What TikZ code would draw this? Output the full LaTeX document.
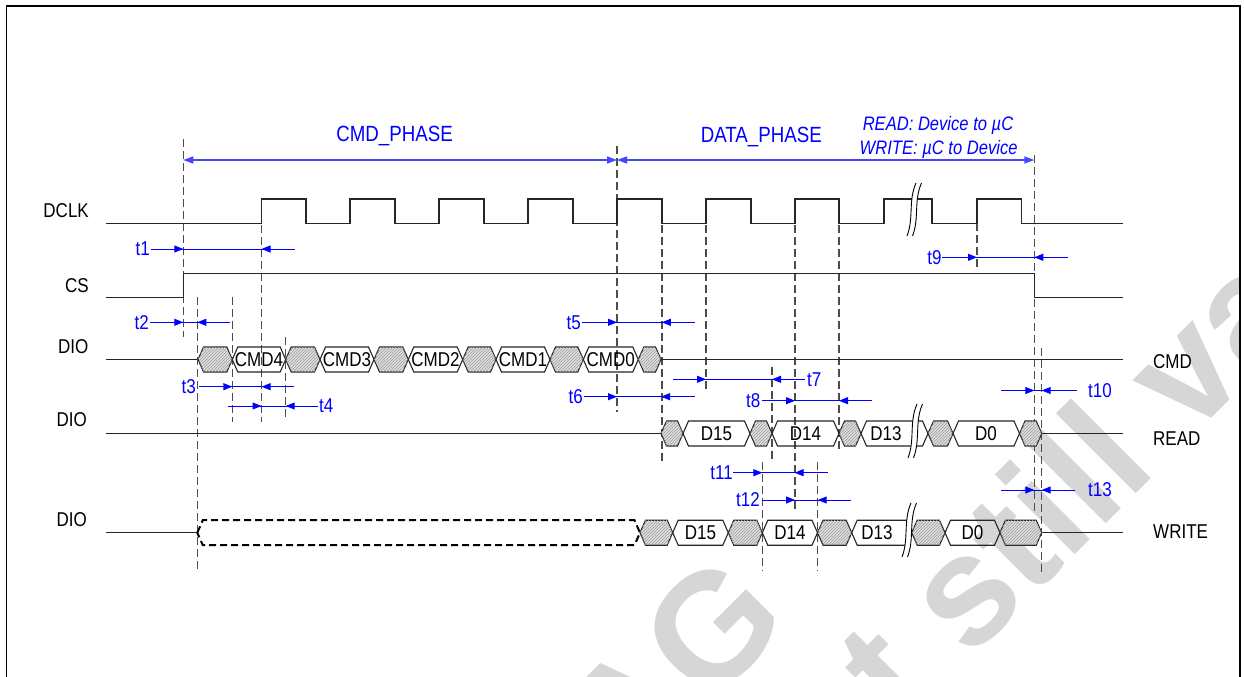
\documentclass[tikz,border=0pt]{standalone}
\usepackage{fontspec}
\setmainfont{Liberation Sans}[FakeStretch=0.85]
\newfontfamily\wmfont{Liberation Sans}
\usetikzlibrary{arrows.meta,patterns}
\definecolor{sig}{gray}{0.15}
\definecolor{dimblue}{RGB}{0,0,255}
\definecolor{phaseblue}{RGB}{70,70,255}
\definecolor{wm}{gray}{0.84}
\newcommand\hsl{5.5}
\newcommand\hhl{12.5}
\newcommand\hexseg[4]{\draw[#4] (#1,#3) -- (#1+\hsl,#3-\hhl) -- (#2-\hsl,#3-\hhl) -- (#2,#3) -- (#2-\hsl,#3+\hhl) -- (#1+\hsl,#3+\hhl) -- cycle;}
\newcommand\dimarr[5]{%
  \draw[dimline] (#2,#1) -- (#5,#1);
  \draw[dimline,-{Triangle[length=9pt,width=7pt]}] (#3-9,#1) -- (#3,#1);
  \draw[dimline,-{Triangle[length=9pt,width=7pt]}] (#4+9,#1) -- (#4,#1);}
\newcommand\brksym[3]{%
  \fill[white] (#1+4,#2) .. controls (#1-4,#2+18) and (#1+2,#3-18) .. (#1-5,#3) -- (#1+0.5,#3) .. controls (#1+7.5,#3-18) and (#1+1.5,#2+18) .. (#1+9.5,#2) -- cycle;
  \draw[brkline] (#1+4,#2) .. controls (#1-4,#2+18) and (#1+2,#3-18) .. (#1-5,#3);
  \draw[brkline] (#1+9.5,#2) .. controls (#1+1.5,#2+18) and (#1+7.5,#3-18) .. (#1+0.5,#3);}
\newcommand\vdsh[3]{\draw[vdl] (#1,#2) -- (#1,#3);}
\begin{document}
\begin{tikzpicture}[x=1pt,y=-1pt,
  sigline/.style={draw=sig,line width=1.4pt},
  hatch/.style={draw=sig,line width=1.1pt,fill=black!13,postaction={pattern=north east lines,pattern color=black!38}},
  databox/.style={draw=sig,line width=1.1pt},
  zbox/.style={draw=black,line width=2pt,dash pattern=on 7pt off 4pt,fill=white},
  vdl/.style={draw=black!70,line width=1.1pt,dash pattern=on 8pt off 4pt},
  dimline/.style={draw=dimblue,line width=1pt},
  phase/.style={draw=phaseblue,line width=1.5pt},
  brkline/.style={draw=black,line width=0.9pt},
  lbl/.style={inner sep=0pt,font=\fontsize{20}{24}\selectfont,text=black},
  tl/.style={inner sep=0pt,font=\fontsize{20}{24}\selectfont,text=dimblue},
  ph/.style={inner sep=0pt,font=\fontsize{22}{26}\selectfont,text=dimblue},
  wmtext/.style={inner sep=0pt,font=\wmfont\bfseries\fontsize{156}{156}\selectfont,text=wm,rotate=45}]
\useasboundingbox (0,0) rectangle (1245,677);
% watermark
\begin{scope}
\clip (8,8) rectangle (1238.5,677);
\node[wmtext,anchor=base east] (wm1) at (793,623) {AG};
\node[wmtext,anchor=base west] (wm2) at (902,728) {t still va};
\end{scope}
% frame
\draw[line width=1.5pt] (6.5,690) -- (6.5,6) -- (1240,6) -- (1240,690);
% phase labels
\node[ph] (cmdphase) at (394.6,136.3) {CMD\_PHASE};
\node[ph] (dataphase) at (761.3,136.7) {DATA\_PHASE};
\node[tl,anchor=base,font=\itshape\fontsize{19.5}{23}\selectfont] (rdir) at (938,130.5) {READ: Device to µC};
\node[tl,anchor=base,font=\itshape\fontsize{19.5}{23}\selectfont] (wdir) at (938.6,154.3) {WRITE: µC to Device};
\draw[phase,{Triangle[length=10pt,width=7pt]}-{Triangle[length=10pt,width=7pt]}] (183.3,160) -- (617,160);
\draw[phase,{Triangle[length=10pt,width=7pt]}-{Triangle[length=10pt,width=7pt]}] (617,160) -- (1034.3,160);
% dashed verticals
\vdsh{183.3}{139}{337}
\vdsh{617}{146}{411.7}
\vdsh{1034.3}{155}{511.7}
\vdsh{261.5}{225}{421.7}
\vdsh{197.3}{297}{570}
\vdsh{232.3}{297}{421.7}
\vdsh{285.7}{337.3}{419.3}
\vdsh{662}{225}{460.7}
\vdsh{706}{225}{392.7}
\vdsh{795}{225}{510}
\vdsh{839}{225}{451.7}
\vdsh{977}{223}{266.7}
\vdsh{772}{366.7}{460}
\vdsh{762.3}{461.7}{570}
\vdsh{817.7}{461.7}{570}
\vdsh{1041.7}{348}{571.7}
% left labels
\node[lbl,anchor=east] (ldclk) at (89,210.3) {DCLK};
\node[lbl,anchor=east] (lcs) at (89,285.3) {CS};
\node[lbl,anchor=east] (ldio1) at (88.5,346.3) {DIO};
\node[lbl,anchor=east] (ldio2) at (87,420) {DIO};
\node[lbl,anchor=east] (ldio3) at (87,519.4) {DIO};
% right labels
\node[lbl,anchor=west] (rcmd) at (1153,361.3) {CMD};
\node[lbl,anchor=west] (rread) at (1153,438.7) {READ};
\node[lbl,anchor=west] (rwrite) at (1153,531.7) {WRITE};
% DCLK
\draw[sigline] (106,223.5) -- (261.5,223.5) -- (261.5,199) -- (306,199) -- (306,223.5) -- (350,223.5) -- (350,199) -- (395,199) -- (395,223.5) -- (439,223.5) -- (439,199) -- (484,199) -- (484,223.5) -- (528,223.5) -- (528,199) -- (573,199) -- (573,223.5) -- (617,223.5) -- (617,199) -- (662,199) -- (662,223.5) -- (706,223.5) -- (706,199) -- (751,199) -- (751,223.5) -- (795,223.5) -- (795,199) -- (839,199) -- (839,223.5) -- (884,223.5) -- (884,199) -- (932,199) -- (932,223.5) -- (977,223.5) -- (977,199) -- (1021.7,199) -- (1021.7,223.5) -- (1123,223.5);
\brksym{912}{183}{236}
% CS
\draw[sigline] (106,297.5) -- (183.3,297.5) -- (183.3,273.3) -- (1034.3,273.3) -- (1034.3,297.5) -- (1123,297.5);
% DIO CMD row
\draw[sigline] (106,359.5) -- (198,359.5);
\draw[sigline] (661,359.5) -- (1123,359.5);
\hexseg{198}{232.3}{359.5}{hatch}
\hexseg{232.3}{285.7}{359.5}{databox}
\hexseg{285.7}{320}{359.5}{hatch}
\hexseg{320}{374}{359.5}{databox}
\hexseg{374}{408.3}{359.5}{hatch}
\hexseg{408.3}{462.7}{359.5}{databox}
\hexseg{462.7}{496}{359.5}{hatch}
\hexseg{496}{550}{359.5}{databox}
\hexseg{550}{583.3}{359.5}{hatch}
\hexseg{583.3}{638.3}{359.5}{databox}
\hexseg{638.3}{661}{359.5}{hatch}
\node[lbl] (cmd4) at (259,359.5) {CMD4};
\node[lbl] (cmd3) at (347,359.5) {CMD3};
\node[lbl] (cmd2) at (435.5,359.5) {CMD2};
\node[lbl] (cmd1) at (523,359.5) {CMD1};
\node[lbl] (cmd0) at (610.8,359.5) {CMD0};
% READ row
\draw[sigline] (106,433.5) -- (661,433.5);
\draw[sigline] (1041.7,433.5) -- (1123,433.5);
\hexseg{661}{683}{433.5}{hatch}
\hexseg{683}{750}{433.5}{databox}
\hexseg{750}{772}{433.5}{hatch}
\hexseg{772}{839}{433.5}{databox}
\hexseg{839}{861}{433.5}{hatch}
\hexseg{861}{928}{433.5}{databox}
\hexseg{928}{953}{433.5}{hatch}
\hexseg{953}{1019.5}{433.5}{databox}
\hexseg{1019.5}{1041.7}{433.5}{hatch}
\brksym{913}{404}{458}
\node[lbl] (rd15) at (716.5,433.5) {D15};
\node[lbl] (rd14) at (805.5,433.5) {D14};
\node[lbl] (rd13) at (886,433.5) {D13};
\node[lbl] (rd0) at (986,433.5) {D0};
% WRITE row
\draw[sigline] (106,532.7) -- (197.3,532.7);
\draw[sigline] (1041.7,532.7) -- (1123,532.7);
\hexseg{197.3}{640}{532.7}{zbox}
\hexseg{640}{672.7}{532.7}{hatch}
\hexseg{672.7}{728.3}{532.7}{databox}
\hexseg{728.3}{762.3}{532.7}{hatch}
\hexseg{762.3}{817.5}{532.7}{databox}
\hexseg{817.5}{851.7}{532.7}{hatch}
\hexseg{851.7}{911.7}{532.7}{databox}
\hexseg{911.7}{945}{532.7}{hatch}
\hexseg{945}{1000}{532.7}{databox}
\hexseg{1000}{1041.7}{532.7}{hatch}
\brksym{907}{503}{557}
\node[lbl] (wd15) at (700.5,532.7) {D15};
\node[lbl] (wd14) at (790,532.7) {D14};
\node[lbl] (wd13) at (877,532.7) {D13};
\node[lbl] (wd0) at (972.5,532.7) {D0};
% timing arrows
\dimarr{249}{151.4}{183.3}{261.5}{294.6}
\node[tl,anchor=east] (t1) at (150,249) {t1};
\dimarr{322.3}{150}{183.3}{197.3}{230}
\node[tl,anchor=east] (t2) at (149,322.3) {t2};
\dimarr{322.3}{582}{617}{661.8}{695}
\node[tl,anchor=east] (t5) at (581,322.3) {t5};
\dimarr{386.7}{199.3}{232.3}{261.5}{294.3}
\node[tl,anchor=east] (t3) at (196,386.7) {t3};
\dimarr{406}{228.3}{261.5}{285.7}{318.3}
\node[tl,anchor=west] (t4) at (319,406) {t4};
\dimarr{396.7}{584.4}{617}{661}{695}
\node[tl,anchor=east] (t6) at (583,396.7) {t6};
\dimarr{379.3}{673}{706}{772}{805}
\node[tl,anchor=west] (t7) at (807,379.3) {t7};
\dimarr{400.7}{762}{795}{839}{872}
\node[tl,anchor=east] (t8) at (760.5,400.7) {t8};
\dimarr{257.3}{941.7}{977}{1034.3}{1067.7}
\node[tl,anchor=east] (t9) at (941.7,257.3) {t9};
\dimarr{390.5}{1001}{1034.3}{1041.7}{1076.7}
\node[tl,anchor=west] (t10) at (1088,390.5) {t10};
\dimarr{472.7}{732.7}{762.3}{794.5}{828}
\node[tl,anchor=east] (t11) at (733,472.7) {t11};
\dimarr{500}{761.7}{795}{817.7}{850.7}
\node[tl,anchor=east] (t12) at (760,500) {t12};
\dimarr{490}{1001}{1034.3}{1041.7}{1075}
\node[tl,anchor=west] (t13) at (1088,490) {t13};
\end{tikzpicture}
\end{document}
